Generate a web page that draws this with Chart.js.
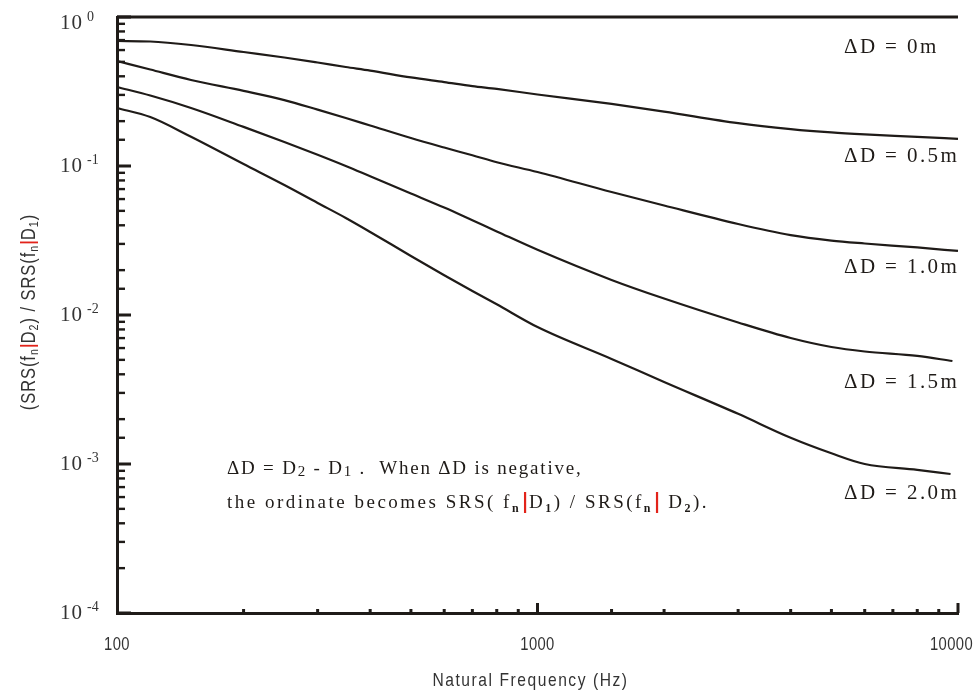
<!DOCTYPE html>
<html>
<head>
<meta charset="utf-8">
<script src="https://cdn.jsdelivr.net/npm/chart.js@4.4.1/dist/chart.umd.min.js"></script>
<style>
  body { margin: 0; background: #fff; }
  #wrap { width: 979px; height: 696px; }
</style>
</head>
<body>
<div id="wrap"><canvas id="srsChart"></canvas></div>
<script>
// natural frequency (Hz)
const frequencies = [100, 120, 150, 200, 250, 300, 350, 400, 500, 600, 700, 800, 1000, 1500, 2000, 3000, 4000, 5000, 6000, 8000, 10000];
const frequencies15 = [100, 120, 150, 200, 250, 300, 350, 400, 500, 600, 700, 800, 1000, 1500, 2000, 3000, 4000, 5000, 6000, 8000, 9700];
const frequencies20 = [100, 120, 150, 200, 250, 300, 350, 400, 500, 600, 700, 800, 1000, 1500, 2000, 3000, 4000, 5000, 6000, 8000, 9600];

// SRS ratio for each depth difference
const ratio00 = [1, 1];
const freq00 = [100, 10000];
const ratio05 = [0.690, 0.685, 0.649, 0.582, 0.535, 0.495, 0.462, 0.437, 0.393, 0.366, 0.344, 0.329, 0.302, 0.261, 0.232, 0.194, 0.177, 0.168, 0.163, 0.157, 0.152];
const ratio10 = [0.507, 0.444, 0.378, 0.319, 0.277, 0.239, 0.210, 0.187, 0.154, 0.133, 0.118, 0.106, 0.0911, 0.0669, 0.0543, 0.0408, 0.0344, 0.0316, 0.0302, 0.0284, 0.0269];
const ratio15 = [0.339, 0.297, 0.245, 0.183, 0.145, 0.119, 0.100, 0.0853, 0.0654, 0.0526, 0.0432, 0.0364, 0.0274, 0.0172, 0.0129, 0.00891, 0.00701, 0.00610, 0.00569, 0.00531, 0.00491];
const ratio20 = [0.245, 0.213, 0.157, 0.103, 0.0745, 0.0565, 0.0448, 0.0361, 0.0249, 0.0185, 0.0145, 0.0118, 0.0083, 0.00507, 0.00355, 0.00217, 0.0015, 0.00118, 0.00100, 0.000914, 0.000857];

const curveLabels = ['\u0394D = 0m', '\u0394D = 0.5m', '\u0394D = 1.0m', '\u0394D = 1.5m', '\u0394D = 2.0m'];
const xTickLabels = ['100', '1000', '10000'];
const yTickExponents = ['0', '-1', '-2', '-3', '-4'];
const xTitle = 'Natural Frequency (Hz)';

const ink = '#1f1b18';
const grey = '#333';
const red = '#e2231a';
const serif = '"Liberation Serif", "Times New Roman", serif';
const sans = '"Liberation Sans", Arial, sans-serif';
const narrowScale = 0.82;

const toPoints = (xs, ys) => ys.map((v, i) => ({ x: xs[i], y: v }));
const isDecade = v => Math.abs(Math.log10(v) - Math.round(Math.log10(v))) < 1e-6;

// text in pieces (subscripts, red bars)
function drawRuns(ctx, x, y, runs) {
    runs.forEach(r => {
        if (r.bar) {
            ctx.fillStyle = red;
            ctx.fillRect(x + r.w / 2 - 1.1, y + r.top, 2.2, r.h);
            x += r.w;
            return;
        }
        ctx.font = r.font;
        ctx.fillStyle = r.color || ink;
        ctx.fillText(r.t, x, y + (r.dy || 0));
        x += ctx.measureText(r.t).width;
    });
    return x;
}
function runsWidth(ctx, runs) {
    let w = 0;
    runs.forEach(r => {
        if (r.bar) { w += r.w; return; }
        ctx.font = r.font;
        w += ctx.measureText(r.t).width;
    });
    return w;
}
function narrowText(ctx, s, x, y) {
    ctx.save();
    ctx.translate(x, y);
    ctx.scale(narrowScale, 1);
    ctx.textAlign = 'center';
    ctx.fillText(s, 0, 0);
    ctx.restore();
}

const decorations = {
    id: 'decorations',
    afterDraw(chart) {
        const ctx = chart.ctx;
        const xs = chart.scales.x;
        const ys = chart.scales.y;
        const area = chart.chartArea;
        ctx.save();
        ctx.fillStyle = ink;

        // inward tick marks on the left axis
        ys.ticks.forEach(t => {
            const py = ys.getPixelForValue(t.value);
            if (isDecade(t.value)) ctx.fillRect(area.left, py - 1.5, 14, 3);
            else ctx.fillRect(area.left, py - 1.2, 8, 2.4);
        });
        // inward tick marks on the bottom axis
        xs.ticks.forEach(t => {
            if (t.value <= 100) return;
            const px = xs.getPixelForValue(t.value);
            const h = isDecade(t.value) ? 10 : 4;
            ctx.fillRect(px - 1.5, area.bottom - h, 3, h);
        });

        // x tick labels and title
        ctx.fillStyle = grey;
        ctx.textBaseline = 'middle';
        ctx.font = '18px ' + sans;
        ctx.letterSpacing = '0.5px';
        xs.ticks.filter(t => isDecade(t.value)).forEach(t => {
            const s = xTickLabels[Math.round(Math.log10(t.value)) - 2];
            const w = ctx.measureText(s).width * narrowScale;
            const px = Math.min(xs.getPixelForValue(t.value), 973 - w / 2);
            narrowText(ctx, s, px, 645);
        });
        ctx.font = '19px ' + sans;
        ctx.letterSpacing = '1.9px';
        narrowText(ctx, xTitle, (area.left + area.right) / 2 - 7, 681);

        // y tick labels 10^n
        ctx.textAlign = 'left';
        ys.ticks.filter(t => isDecade(t.value)).forEach(t => {
            const py = Math.max(ys.getPixelForValue(t.value), 23);
            const exp = Math.round(Math.log10(t.value));
            ctx.font = '21px ' + serif;
            ctx.letterSpacing = '1px';
            ctx.fillText('10', 60, py);
            const w = ctx.measureText('10').width;
            ctx.font = '14px ' + serif;
            ctx.letterSpacing = '0px';
            ctx.fillText(yTickExponents[-exp], 60 + w + 4, py - 6);
        });

        // curve labels
        ctx.fillStyle = ink;
        ctx.font = '21px ' + serif;
        ctx.letterSpacing = '2.4px';
        const labelY = [47, 156, 267, 382, 493];
        curveLabels.forEach((s, i) => ctx.fillText(s, 844, labelY[i]));

        // note
        ctx.textBaseline = 'alphabetic';
        const f = '19px ' + serif;
        const fs = '15px ' + serif;
        const fb = 'bold 12px ' + serif;
        ctx.letterSpacing = '1.8px';
        drawRuns(ctx, 227, 474, [
            { t: '\u0394D = D', font: f },
            { t: '2', font: fs, dy: 2 },
            { t: ' - D', font: f },
            { t: '1', font: fs, dy: 2 },
            { t: ' .  When \u0394D is negative,', font: f }
        ]);
        ctx.letterSpacing = '2.5px';
        drawRuns(ctx, 227, 508, [
            { t: 'the ordinate becomes SRS( f', font: f },
            { t: 'n', font: fb, dy: 4 },
            { bar: true, w: 8, top: -16, h: 21 },
            { t: 'D', font: f },
            { t: '1', font: fb, dy: 4 },
            { t: ') / SRS(f', font: f },
            { t: 'n', font: fb, dy: 4 },
            { bar: true, w: 8, top: -16, h: 21 },
            { t: ' D', font: f },
            { t: '2', font: fb, dy: 4 },
            { t: ').', font: f }
        ]);

        // y axis title
        ctx.letterSpacing = '1.2px';
        const tf = '20px ' + sans;
        const sf = '13px ' + sans;
        const titleRuns = [
            { t: '(SRS(f', font: tf, color: grey },
            { t: 'n', font: sf, dy: 5, color: grey },
            { bar: true, w: 6, top: -9, h: 18 },
            { t: 'D', font: tf, color: grey },
            { t: '2', font: sf, dy: 5, color: grey },
            { t: ') / SRS(f', font: tf, color: grey },
            { t: 'n', font: sf, dy: 5, color: grey },
            { bar: true, w: 6, top: -9, h: 18 },
            { t: 'D', font: tf, color: grey },
            { t: '1', font: sf, dy: 5, color: grey },
            { t: ')', font: tf, color: grey }
        ];
        ctx.translate(29, 312);
        ctx.rotate(-Math.PI / 2);
        ctx.scale(narrowScale, 1);
        ctx.textBaseline = 'middle';
        const tw = runsWidth(ctx, titleRuns);
        drawRuns(ctx, -tw / 2, 0, titleRuns);
        ctx.restore();
    }
};

const lineStyle = {
    borderColor: ink,
    borderWidth: 2.2,
    pointRadius: 0,
    fill: false,
    cubicInterpolationMode: 'monotone',
    clip: false
};

const ctx = document.getElementById('srsChart').getContext('2d');
new Chart(ctx, {
    type: 'line',
    data: {
        datasets: [
            { ...lineStyle, label: curveLabels[0], data: toPoints(freq00, ratio00), borderWidth: 3 },
            { ...lineStyle, label: curveLabels[1], data: toPoints(frequencies, ratio05) },
            { ...lineStyle, label: curveLabels[2], data: toPoints(frequencies, ratio10) },
            { ...lineStyle, label: curveLabels[3], data: toPoints(frequencies15, ratio15) },
            { ...lineStyle, label: curveLabels[4], data: toPoints(frequencies20, ratio20) }
        ]
    },
    options: {
        responsive: true,
        maintainAspectRatio: false,
        animation: false,
        layout: { padding: { left: 117, right: 21, top: 17, bottom: 0 } },
        plugins: {
            legend: { display: false },
            tooltip: { enabled: false }
        },
        scales: {
            x: {
                type: 'logarithmic',
                min: 100,
                max: 10000,
                grid: { display: false, drawTicks: false },
                border: { display: true, color: ink, width: 3 },
                ticks: { display: false },
                afterFit: scale => { scale.height = 83; }
            },
            y: {
                type: 'logarithmic',
                min: 0.0001,
                max: 1,
                grid: { display: false, drawTicks: false },
                border: { display: true, color: ink, width: 3 },
                ticks: { display: false },
                afterFit: scale => { scale.width = 0; }
            }
        }
    },
    plugins: [decorations]
});
</script>
</body>
</html>
